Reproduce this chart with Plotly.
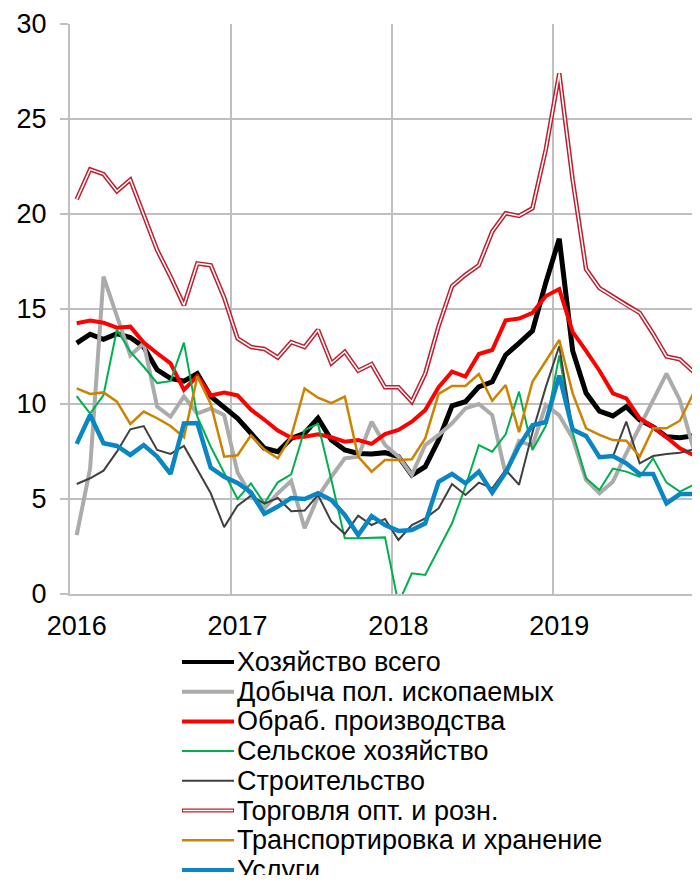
import plotly.graph_objects as go

# месяцы: январь 2016 - ноябрь 2019
months = list(range(47))
year_ticks = [0, 12, 24, 36]
year_labels = ["2016", "2017", "2018", "2019"]

khoz_vsego = [13.2, 13.67, 13.4, 13.7, 13.5, 13.0, 11.8, 11.35, 11.2, 11.6,
              10.4, 9.86, 9.25, 8.46, 7.67, 7.49, 8.19, 8.46, 9.25, 8.1,
              7.58, 7.4, 7.37, 7.44, 7.23, 6.26, 6.7, 8.1, 9.9, 10.12,
              10.9, 11.17, 12.58, 13.2, 13.85, 16.4, 18.7, 12.8, 10.58, 9.62,
              9.37, 9.86, 9.16, 8.8, 8.28, 8.23, 8.32]
dobycha = [3.1, 6.6, 16.7, 14.6, 12.55, 13.2, 9.86, 9.33, 10.4, 9.5,
           9.77, 9.42, 6.4, 5.2, 4.5, 5.3, 5.95, 3.46, 5.12, 6.17,
           7.14, 7.23, 9.07, 7.84, 7.23, 6.26, 7.84, 8.37, 8.98, 9.77,
           10.0, 9.42, 6.3, 8.05, 7.8, 9.95, 9.4, 8.2, 6.0, 5.3,
           5.91, 7.4, 8.8, 10.2, 11.6, 10.2, 7.67]
obrab = [14.25, 14.39, 14.28, 14.02, 14.07, 13.23, 12.67, 12.14, 10.74, 11.47,
         10.45, 10.6, 10.45, 9.7, 9.17, 8.6, 8.22, 8.28, 8.4, 8.25,
         8.02, 8.1, 7.9, 8.42, 8.63, 9.07, 9.68, 10.88, 11.7, 11.44,
         12.63, 12.84, 14.4, 14.5, 14.8, 15.68, 16.05, 13.8, 12.8, 11.75,
         10.56, 10.3, 9.25, 8.8, 8.25, 7.67, 7.32]
selskoe = [10.42, 9.5, 10.47, 13.92, 12.75, 11.96, 11.1, 11.2, 13.23, 9.33,
           7.75, 6.4, 5.0, 5.82, 4.77, 5.88, 6.3, 8.63, 8.95, 6.0,
           2.93, 2.93, 2.96, 2.98, -0.5, 1.09, 1.0, 2.4, 3.72, 5.65,
           7.84, 7.49, 8.4, 10.65, 7.58, 8.85, 12.55, 8.5, 6.09, 5.47,
           6.6, 6.44, 6.17, 7.14, 5.86, 5.39, 5.74]
stroit = [5.79, 6.09, 6.49, 7.49, 8.67, 8.84, 7.58, 7.37, 7.79, 6.53,
          5.3, 3.52, 4.65, 5.18, 4.76, 5.05, 4.36, 4.39, 5.21, 3.81,
          3.16, 4.12, 3.63, 3.95, 2.84, 3.63, 3.98, 4.51, 5.79, 5.21,
          5.86, 5.56, 6.53, 5.75, 8.5, 10.9, 13.05, 8.63, 8.25, 7.26,
          7.23, 9.07, 6.88, 7.26, 7.37, 7.44, 7.61]
torgovlya = [20.77, 22.35, 22.1, 21.2, 21.8, 20.0, 18.1, 16.7, 15.2, 17.4,
             17.3, 15.6, 13.45, 13.0, 12.9, 12.45, 13.25, 13.0, 13.9, 12.14,
             12.75, 11.75, 12.1, 10.88, 10.88, 10.12, 11.6, 14.1, 16.2, 16.8,
             17.3, 19.07, 20.04, 19.9, 20.3, 23.4, 27.4, 21.8, 17.1, 16.1,
             15.65, 15.2, 14.8, 13.7, 12.5, 12.35, 11.7]
transport = [10.82, 10.53, 10.61, 10.12, 8.95, 9.6, 9.25, 8.84, 8.25, 11.45,
             10.0, 7.23, 7.3, 8.35, 7.6, 7.14, 8.3, 10.82, 10.33, 10.04,
             10.39, 7.23, 6.44, 7.05, 7.05, 7.09, 8.19, 10.53, 10.95, 10.95,
             11.58, 10.17, 11.0, 8.52, 11.17, 12.28, 13.37, 10.56, 8.72, 8.37,
             8.1, 8.07, 7.23, 8.72, 8.72, 9.12, 10.56]
uslugi = [7.9, 9.42, 7.93, 7.79, 7.32, 7.84, 7.23, 6.32, 8.98, 9.0,
          6.65, 6.17, 5.85, 5.35, 4.22, 4.6, 5.05, 5.0, 5.3, 4.95,
          4.16, 3.1, 4.1, 3.63, 3.32, 3.37, 3.72, 5.91, 6.32, 5.83,
          6.44, 5.33, 6.4, 7.8, 8.88, 9.05, 11.5, 8.65, 8.32, 7.2,
          7.26, 6.88, 6.32, 6.32, 4.77, 5.26, 5.26]

# (название, ряд, цвет, толщина)
series = [
    ("Хозяйство всего", khoz_vsego, "#000000", 5),
    ("Добыча пол. ископаемых", dobycha, "#ABABAB", 4),
    ("Обраб. производства", obrab, "#FF0000", 4),
    ("Сельское хозяйство", selskoe, "#00B050", 2),
    ("Строительство", stroit, "#404040", 2),
    ("Торговля опт. и розн.", torgovlya, "#BE1E2D", 4.5),
    ("Транспортировка и хранение", transport, "#CC8400", 2.5),
    ("Услуги", uslugi, "#0A86C2", 4.5),
]

FONT = "Liberation Sans, Arial, sans-serif"
GRID = "#BFBFBF"

fig = go.Figure()
for name, vals, color, w in series:
    fig.add_trace(go.Scatter(x=months, y=vals, mode="lines", name=name,
                             line=dict(color=color, width=w), showlegend=False))
    if name.startswith("Торговля"):
        # двойная линия: белая середина поверх
        fig.add_trace(go.Scatter(x=months, y=vals, mode="lines", showlegend=False,
                                 line=dict(color="white", width=1.5), hoverinfo="skip"))

# страница браузера добавляет отступ 8px, поэтому фигура чуть меньше окна
FIG_W, FIG_H = 692, 867
L, T, W, H = 62, 16, 630, 570
PAGE_L, PAGE_T = 70, 24   # левый/верхний край области графика на странице

def px_x(p): return (p - PAGE_L) / W
def px_y(p): return (PAGE_T + H - p) / H

# легенда вручную (образцы линий длиннее, чем у plotly)
row0, step = 662, 29.7
for k, (name, vals, color, w) in enumerate(series):
    yy = px_y(row0 + k * step)
    lw = 4 if w >= 4 else w
    fig.add_shape(type="line", xref="paper", yref="paper",
                  x0=px_x(182), x1=px_x(234), y0=yy, y1=yy,
                  line=dict(color=color, width=lw))
    if name.startswith("Торговля"):
        fig.add_shape(type="line", xref="paper", yref="paper",
                      x0=px_x(183), x1=px_x(233), y0=yy, y1=yy,
                      line=dict(color="white", width=1.5))
    fig.add_annotation(x=px_x(235), y=yy, xref="paper", yref="paper",
                       text=name, showarrow=False, xanchor="left", yanchor="middle",
                       font=dict(family=FONT, size=27, color="#000000"))

fig.update_layout(
    width=FIG_W, height=FIG_H,
    margin=dict(l=L, r=0, t=T, b=FIG_H - T - H),
    paper_bgcolor="white", plot_bgcolor="white",
    font=dict(family=FONT, size=27, color="#000000"),
    showlegend=False,
)
fig.update_xaxes(
    range=[-0.5, 46.5], tickmode="array", tickvals=year_ticks, ticktext=year_labels,
    showgrid=False, zeroline=False, ticks="", ticklabelstandoff=7, automargin=False,
    showline=True, linecolor=GRID, linewidth=2,
    minor=dict(tickmode="array", tickvals=[-0.5, 11.5, 23.5, 35.5],
               showgrid=True, gridcolor=GRID, gridwidth=2, ticks=""),
)
fig.update_yaxes(
    range=[0, 30], tickvals=[0, 5, 10, 15, 20, 25, 30], automargin=False,
    showgrid=True, gridcolor=GRID, gridwidth=2, zeroline=False,
    showline=True, linecolor=GRID, linewidth=2,
    ticks="outside", ticklen=8, tickcolor=GRID, tickwidth=2, ticklabelstandoff=8,
)

fig.write_html("out.html")
